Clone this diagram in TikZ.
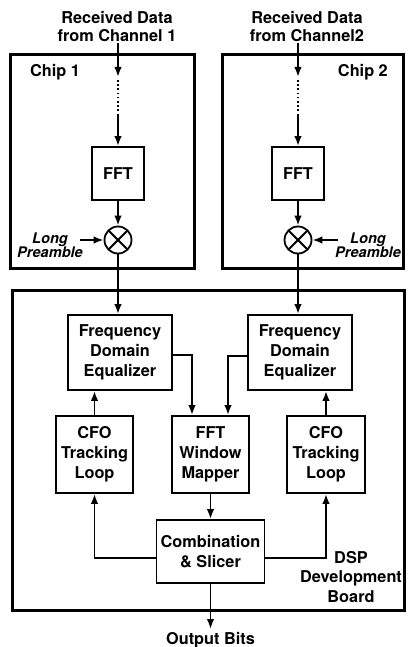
\documentclass[tikz,border=0pt]{standalone}
\usepackage{fontspec}
\setmainfont{TeX Gyre Heros}
\usetikzlibrary{arrows.meta}
\begin{document}
\begin{tikzpicture}[x=1pt,y=-1pt,
  lbl/.style={font=\fontsize{16.3}{19.5}\selectfont\bfseries, align=center, inner sep=0pt},
  pre/.style={font=\fontsize{14.6}{14.5}\selectfont\bfseries\itshape, align=center, inner sep=0pt},
  blk/.style={draw, line width=1.8pt, align=center, inner sep=0pt,
    font=\fontsize{16.3}{20}\selectfont\bfseries},
  frame/.style={draw, line width=3pt},
  conn/.style={line width=1.8pt},
  arr/.style={conn, -{Latex[length=10pt,width=7.5pt]}},
  mixer/.style={draw, circle, line width=1.8pt, minimum size=27pt, inner sep=0pt,
    path picture={\draw[line width=1.8pt]
      (path picture bounding box.north west) -- (path picture bounding box.south east)
      (path picture bounding box.north east) -- (path picture bounding box.south west);}}
]
\useasboundingbox (0,0) rectangle (407,647);

% chips and board outlines
\draw[frame] (10,55) rectangle (194,268);
\draw[frame] (222,55) rectangle (403,268);
\draw[frame] (12,290) rectangle (404,610);
\node[lbl, anchor=base west] (chipa) at (30,77) {Chip 1};
\node[lbl, anchor=base east] (chipb) at (388,77) {Chip 2};
\node[lbl] (board) at (351,577) {DSP\\Development\\Board};

% inputs
\node[lbl, font=\fontsize{16.3}{18}\selectfont\bfseries] (ina) at (117,27) {Received Data\\from Channel 1};
\node[lbl, font=\fontsize{16.3}{18}\selectfont\bfseries] (inb) at (307,27) {Received Data\\from Channel2};
\coordinate (ta) at (118,43);
\coordinate (tb) at (298,43);
\coordinate (ua) at (118,77);
\coordinate (ub) at (298,77);
\coordinate (va) at (118,80);
\coordinate (vb) at (298,80);
\coordinate (wa) at (118,114);
\coordinate (wb) at (298,114);

% chip blocks
\node[blk, minimum width=52pt, minimum height=53pt] (ffta) at (118,173.5) {FFT};
\node[blk, minimum width=52pt, minimum height=53pt] (fftb) at (298,173.5) {FFT};
\node[mixer] (mxa) at (118,240) {};
\node[mixer] (mxb) at (298,240) {};
\node[pre] (pra) at (50,245) {Long\\Preamble};
\node[pre] (prb) at (368,245) {Long\\Preamble};
\coordinate (pa) at (80,240);
\coordinate (pb) at (338,240);

% board blocks
\node[blk, minimum width=104pt, minimum height=75pt] (fdea) at (120,352.5) {Frequency\\Domain\\Equalizer};
\node[blk, minimum width=104pt, minimum height=75pt] (fdeb) at (300,352.5) {Frequency\\Domain\\Equalizer};
\node[blk, minimum width=77pt, minimum height=77pt] (cfoa) at (94.5,454.5) {CFO\\Tracking\\Loop};
\node[blk, minimum width=77pt, minimum height=77pt] (fwm) at (210.5,454.5) {FFT\\Window\\Mapper};
\node[blk, minimum width=78pt, minimum height=77pt] (cfob) at (326,454.5) {CFO\\Tracking\\Loop};
\node[blk, minimum width=108pt, minimum height=63pt] (comb) at (210.5,551.5) {Combination\\\& Slicer};
\node[lbl, anchor=base] (out) at (210.5,644) {Output Bits};
\coordinate (oa) at (210.5,629);

% connectors
\draw[arr] (ta) -- (ua);
\draw[arr] (tb) -- (ub);
\draw[conn, line width=1.6pt, dash pattern=on 1.6pt off 2.6pt] (va) -- (wa);
\draw[conn, line width=1.6pt, dash pattern=on 1.6pt off 2.6pt] (vb) -- (wb);
\draw[arr] (wa) -- (ffta.north);
\draw[arr] (wb) -- (fftb.north);
\draw[arr] (ffta.south) -- (mxa.north);
\draw[arr] (fftb.south) -- (mxb.north);
\draw[arr] (pa) -- (mxa.west);
\draw[arr] (pb) -- (mxb.east);
\draw[arr] (mxa.south) -- (mxa.south |- fdea.north);
\draw[arr] (mxb.south) -- (mxb.south |- fdeb.north);
\draw[arr] (fdea.east |- 0,355) -| ([xshift=-18.5pt]fwm.north);
\draw[arr] (fdeb.west |- 0,356) -| ([xshift=17.5pt]fwm.north);
\draw[arr] (cfoa.north) -- (cfoa.north |- fdea.south);
\draw[arr] (cfob.north) -- (cfob.north |- fdeb.south);
\draw[arr] (fwm.south) -- (fwm.south |- comb.north);
\draw[arr] (comb.west |- 0,558) -| (cfoa.south);
\draw[arr] (comb.east |- 0,558) -| (cfob.south);
\draw[arr] (comb.south) -- (oa);
\end{tikzpicture}
\end{document}
